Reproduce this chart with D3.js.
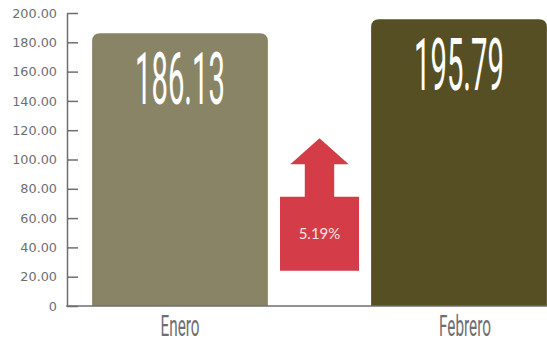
<!DOCTYPE html>
<html>
<head>
<meta charset="utf-8">
<script src="https://cdn.jsdelivr.net/npm/d3@7/dist/d3.min.js"></script>
<style>
  html, body { margin: 0; padding: 0; background: #ffffff; }
  svg { display: block; }
</style>
</head>
<body>
<svg id="chart" width="547" height="342"></svg>
<script>
// Monthly values
const categories = ["Enero", "Febrero"];
const values = [186.13, 195.79];
const barColors = ["#8a8466", "#564f23"];

// Axis ticks and their printed labels
const tickValues = [0, 20, 40, 60, 80, 100, 120, 140, 160, 180, 200];
const tickLabels = ["0", "20.00", "40.00", "60.00", "80.00", "100.00", "120.00", "140.00", "160.00", "180.00", "200.00"];

const W = 547, H = 342;
const axisColor = "#6d6e71";
const condensed = "Roboto, 'DejaVu Sans Condensed', sans-serif";

const svg = d3.select("#chart");

const y = d3.scaleLinear().domain([0, 200]).range([306, 13]);
const x = d3.scaleBand().domain(categories).range([67, 572])
  .paddingInner(0.37).paddingOuter(0.09);

// Bar outline with rounded top corners
function roundedTop(x0, y0, w, h, r) {
  return `M${x0},${y0 + h}V${y0 + r}Q${x0},${y0} ${x0 + r},${y0}` +
         `H${x0 + w - r}Q${x0 + w},${y0} ${x0 + w},${y0 + r}V${y0 + h}Z`;
}

// Squeeze a text selection horizontally so its first item spans `width` px
function condense(sel, width, place) {
  const natural = sel.node().getComputedTextLength();
  const sx = width / natural;
  sel.attr("transform", (d, i) => `translate(${place(d, i)}) scale(${sx},1)`);
}

const data = categories.map((c, i) => ({ cat: c, value: values[i], color: barColors[i] }));

svg.append("g").selectAll("path")
  .data(data)
  .join("path")
  .attr("d", d => roundedTop(x(d.cat), y(d.value), x.bandwidth(), y(0) - y(d.value), 8))
  .attr("fill", d => d.color);

// Value labels inside the bars
const valueText = svg.append("g").selectAll("text")
  .data(data)
  .join("text")
  .attr("text-anchor", "middle")
  .attr("font-family", condensed)
  .attr("font-weight", 400)
  .attr("font-size", 73)
  .attr("fill", "#ffffff")
  .text(d => d.value.toFixed(2));
condense(valueText, 90, d => `${x(d.cat) + x.bandwidth() / 2},${y(d.value) + 70.5}`);

// Y axis with inward ticks
const yAxis = d3.axisLeft(y)
  .tickValues(tickValues)
  .tickFormat((d, i) => tickLabels[i])
  .tickSize(-11)
  .tickSizeOuter(0)
  .tickPadding(10);

const gy = svg.append("g").attr("transform", "translate(67,0)").call(yAxis);
gy.select(".domain").attr("stroke", axisColor).attr("stroke-width", 1.5);
gy.selectAll(".tick line").attr("stroke", axisColor).attr("stroke-width", 1.5);
gy.selectAll(".tick text")
  .attr("fill", axisColor)
  .attr("font-family", "'DejaVu Sans', sans-serif")
  .attr("font-size", 12.8);

// Baseline
svg.append("line")
  .attr("x1", 66.25).attr("x2", W)
  .attr("y1", y(0)).attr("y2", y(0))
  .attr("stroke", axisColor).attr("stroke-width", 1.5);

// Category labels
const catText = svg.append("g").selectAll("text")
  .data(data)
  .join("text")
  .attr("text-anchor", "middle")
  .attr("font-family", condensed)
  .attr("font-weight", 400)
  .attr("font-size", 30)
  .attr("fill", axisColor)
  .text(d => d.cat);
condense(catText, 39, d => `${x(d.cat) + x.bandwidth() / 2 + (d.cat === categories[1] ? 6 : 0)},335.5`);

// Change arrow between the two bars
const change = (values[1] / values[0] - 1) * 100;
const cx = (x(categories[0]) + x.bandwidth() + x(categories[1])) / 2;
const boxBottom = 270.7, boxTop = 196.7, headBase = 164.3, tip = 138.3;
const boxHalf = 39.5, headHalf = 29.2, shaftHalf = 14.7;

svg.append("path")
  .attr("d", `M${cx - boxHalf},${boxBottom}V${boxTop}H${cx - shaftHalf}V${headBase}H${cx - headHalf}` +
             `L${cx},${tip}L${cx + headHalf},${headBase}H${cx + shaftHalf}V${boxTop}H${cx + boxHalf}V${boxBottom}Z`)
  .attr("fill", "#d43c47");

svg.append("text")
  .attr("x", cx)
  .attr("y", (boxTop + boxBottom) / 2)
  .attr("dy", "0.36em")
  .attr("text-anchor", "middle")
  .attr("font-family", "Lato, sans-serif")
  .attr("font-size", 15)
  .attr("fill", "#fbe2e3")
  .text(change.toFixed(2) + "%");
</script>
</body>
</html>
